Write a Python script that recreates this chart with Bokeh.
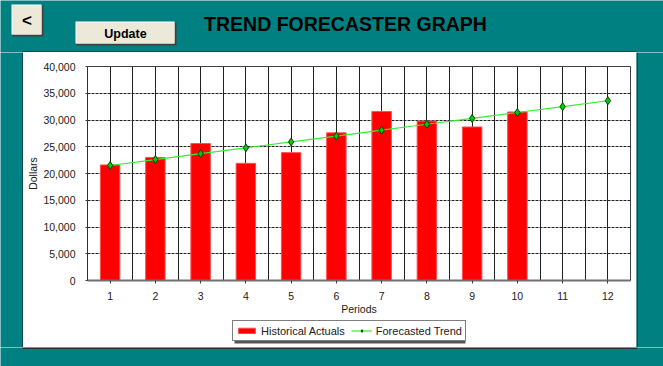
from bokeh.plotting import figure
from bokeh.layouts import column, row
from bokeh.models import Range1d, FixedTicker, NumeralTickFormatter, Legend, LegendItem
from bokeh.core.properties import value
from bokeh.embed import file_html
from bokeh.resources import INLINE

# ---- data ----
periods = [1, 2, 3, 4, 5, 6, 7, 8, 9, 10, 11, 12]
actual_periods = [1, 2, 3, 4, 5, 6, 7, 8, 9, 10]
historical_actuals = [21600, 23000, 25600, 21900, 23900, 27600, 31600, 29800, 28700, 31500]
forecasted_trend = [21500, 22600, 23700, 24800, 25900, 27000, 28100, 29200, 30300, 31400, 32500, 33600]
y_ticks = [0, 5000, 10000, 15000, 20000, 25000, 30000, 35000, 40000]
title_text = "TREND FORECASTER GRAPH"
button_texts = ["<", "Update"]
x_label = "Periods"
y_label = "Dollars"
series_names = ["Historical Actuals", "Forecasted Trend"]

TEAL = "#008080"
FONT = "Liberation Sans"
BTN = "#ECE9D8"
BAR_FILL, BAR_LINE = "#FF0000", "#FF5050"
TREND_LINE, TREND_FILL, TREND_EDGE = "#33EE33", "#00CC00", "#004400"


def deco_fig(w, h, xr, yr, bg=TEAL):
    f = figure(output_backend="svg", toolbar_location=None, width=w, height=h,
               x_range=Range1d(*xr), y_range=Range1d(*yr),
               x_axis_type=None, y_axis_type=None, min_border=0,
               background_fill_color=bg, border_fill_color=bg, outline_line_color=None)
    f.grid.visible = False
    return f


# ---- top bar (page y 0..52) ----
top = deco_fig(663, 52, (0, 663), (52, 0))
top.quad(left=[22], right=[636], top=[51], bottom=[52], fill_color="#1a1a1a", line_color=None)
top.quad(left=[12, 76], right=[43, 176], top=[5, 22], bottom=[36, 45], fill_color="#404040", line_color=None)
top.quad(left=[11, 75], right=[41, 174], top=[4, 21], bottom=[34, 43], fill_color="#FFFFFF", line_color=None)
top.quad(left=[12, 76], right=[41, 174], top=[5, 22], bottom=[34, 43], fill_color=BTN, line_color=None)
top.text(x=[26.5], y=[20], text=[button_texts[0]], text_font=value(FONT), text_font_size="17px",
         text_font_style="bold", text_align="center", text_baseline="middle", text_color="black")
top.text(x=[125], y=[33], text=[button_texts[1]], text_font=value(FONT), text_font_size="12.5px",
         text_font_style="bold", text_align="center", text_baseline="middle", text_color="black")
top.text(x=[345], y=[23.5], text=[title_text], text_font=value(FONT), text_font_size="19.5px",
         text_font_style="bold", text_align="center", text_baseline="middle", text_color="black")

# ---- side strips (page y 52..347) ----
left = deco_fig(23, 295, (0, 23), (295, 0))
left.quad(left=[22], right=[23], top=[0], bottom=[295], fill_color="#1a1a1a", line_color=None)
right = deco_fig(27, 295, (0, 27), (295, 0))
right.quad(left=[0], right=[1], top=[0], bottom=[295], fill_color="#1a1a1a", line_color=None)

# ---- bottom strip (page y 347..366) ----
bottom = deco_fig(663, 19, (0, 663), (19, 0))
bottom.quad(left=[22], right=[637], top=[0], bottom=[1.5], fill_color="#303030", line_color=None)

# ---- main chart (page x 23..636, y 52..320; frame x 87..630, y 66..280) ----
p = figure(output_backend="svg", toolbar_location=None,
           frame_width=543, frame_height=214,
           min_border_left=64, min_border_right=6, min_border_top=14, min_border_bottom=40,
           x_range=Range1d(0.5, 12.5), y_range=Range1d(0, 40000),
           background_fill_color="white", border_fill_color="white",
           outline_line_color="#404040", outline_line_width=1)

p.xaxis.ticker = FixedTicker(ticks=periods)
p.yaxis.ticker = FixedTicker(ticks=y_ticks)
p.yaxis.formatter = NumeralTickFormatter(format="0,0")
for ax in (p.xaxis[0], p.yaxis[0]):
    ax.major_label_text_font = FONT
    ax.major_label_text_font_size = "10.5px"
    ax.major_label_text_color = "#202020"
    ax.axis_label_text_font = FONT
    ax.axis_label_text_font_size = "10.5px"
    ax.axis_label_text_font_style = "normal"
    ax.axis_label_text_color = "#202020"
    ax.minor_tick_line_color = None
    ax.major_tick_in = 0
p.xaxis.axis_label = x_label
p.yaxis.axis_label = y_label
p.xaxis.major_tick_out = 3
p.xaxis.major_tick_line_color = "#404040"
p.xaxis.major_label_standoff = 8
p.xaxis.axis_label_standoff = 0
p.xaxis.axis_line_color = "#707070"
p.xaxis.axis_line_width = 2
p.yaxis.major_tick_out = 2
p.yaxis.major_tick_line_color = "#404040"
p.yaxis.major_label_standoff = 10
p.yaxis.axis_label_standoff = 1
p.yaxis.axis_line_color = "#303030"

p.xgrid.ticker = FixedTicker(ticks=[x / 2 for x in range(1, 26)])
p.xgrid.grid_line_color = "#202020"
p.xgrid.grid_line_width = 1
p.ygrid.ticker = FixedTicker(ticks=y_ticks)
p.ygrid.grid_line_color = "#202020"
p.ygrid.grid_line_dash = "3 1"

p.vbar(x=actual_periods, top=historical_actuals, width=0.43, bottom=0,
       fill_color=BAR_FILL, line_color=BAR_LINE, line_width=1)
p.line(periods, forecasted_trend, line_color=TREND_LINE, line_width=1.2)
p.scatter(periods, forecasted_trend, marker="diamond", size=8,
          fill_color=TREND_FILL, line_color=TREND_EDGE, line_width=1)

# ---- legend strip (page y 320..347); its frame is aligned with the chart frame (x 87..630) ----
lg = deco_fig(613, 27, (87, 630), (347, 320), bg="white")
lg.quad(left=[234], right=[465], top=[324], bottom=[343], fill_color="#555555", line_color=None)
# legend swatches: same series styles, renderers hidden so only the legend shows them
lb = lg.vbar(x=actual_periods, top=historical_actuals, width=0.43, bottom=0,
             fill_color=BAR_FILL, line_color=BAR_LINE, line_width=1, visible=False)
ll = lg.line(periods, forecasted_trend, line_color=TREND_LINE, line_width=1.2, visible=False)
ls = lg.scatter(periods, forecasted_trend, marker="diamond", size=7,
                fill_color=TREND_FILL, line_color=TREND_EDGE, line_width=1, visible=False)
legend = Legend(items=[LegendItem(label=series_names[0], renderers=[lb]),
                       LegendItem(label=series_names[1], renderers=[ll, ls])],
                orientation="horizontal", location=(145, 6),
                label_text_font=FONT, label_text_font_size="11px", label_text_color="#202020",
                glyph_width=21, glyph_height=7, label_height=13, label_standoff=4,
                spacing=6, padding=3, margin=0,
                border_line_color="black", border_line_width=1,
                background_fill_color="white", background_fill_alpha=1,
                inactive_fill_alpha=0)
lg.add_layout(legend, "center")

layout = column(top, row(left, column(p, lg), right), bottom)

open("out.html", "w").write(file_html(layout, INLINE, title="Trend Forecaster Graph"))
